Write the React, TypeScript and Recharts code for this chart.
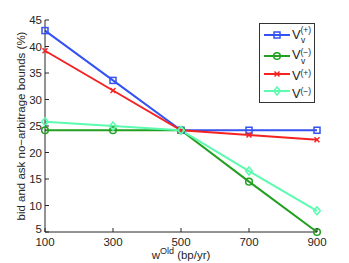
import { LineChart, Line, XAxis, YAxis, Label } from 'recharts'

const xVals = [100, 300, 500, 700, 900]
const vvPlus = [43.0, 33.6, 24.2, 24.2, 24.2]
const vvMinus = [24.2, 24.2, 24.2, 14.5, 5.0]
const vPlus = [39.2, 31.7, 24.2, 23.3, 22.4]
const vMinus = [25.8, 25.0, 24.2, 16.5, 9.0]
const xTicks = [100, 300, 500, 700, 900]
const yTicks = [5, 10, 15, 20, 25, 30, 35, 40, 45]

const data = xVals.map((x, i) => ({
  x,
  vvPlus: vvPlus[i],
  vvMinus: vvMinus[i],
  vPlus: vPlus[i],
  vMinus: vMinus[i],
}))

const FONT = '"Liberation Sans", Arial, sans-serif'
const INK = '#262626'

type Marker = 'square' | 'circle' | 'x' | 'diamond'

const SERIES: { key: string; color: string; marker: Marker; sign: string; sub: boolean }[] = [
  { key: 'vvPlus', color: '#3552f2', marker: 'square', sign: '(+)', sub: true },
  { key: 'vvMinus', color: '#22a021', marker: 'circle', sign: '(\u2212)', sub: true },
  { key: 'vPlus', color: '#f52222', marker: 'x', sign: '(+)', sub: false },
  { key: 'vMinus', color: '#5cfbb0', marker: 'diamond', sign: '(\u2212)', sub: false },
]

function MarkerShape({ cx, cy, color, marker }: { cx: number; cy: number; color: string; marker: Marker }) {
  if (marker === 'square')
    return <rect x={cx - 3} y={cy - 3} width={6} height={6} fill="none" stroke={color} strokeWidth={1.5} />
  if (marker === 'circle')
    return <circle cx={cx} cy={cy} r={3.3} fill="none" stroke={color} strokeWidth={1.5} />
  if (marker === 'x')
    return (
      <g stroke={color} strokeWidth={1.5}>
        <line x1={cx - 2.5} y1={cy - 2.5} x2={cx + 2.5} y2={cy + 2.5} />
        <line x1={cx - 2.5} y1={cy + 2.5} x2={cx + 2.5} y2={cy - 2.5} />
      </g>
    )
  return (
    <polygon
      points={`${cx},${cy - 4} ${cx + 3.3},${cy} ${cx},${cy + 4} ${cx - 3.3},${cy}`}
      fill="none"
      stroke={color}
      strokeWidth={1.5}
    />
  )
}

function LeftTick({ x, y, payload }: any) {
  // the lowest label sits a little higher, as in the original figure
  const dy = payload.value === yTicks[0] ? 1 : 4
  return (
    <g>
      <line x1={x + 3} x2={x + 7} y1={y} y2={y} stroke={INK} />
      <text x={x} y={y} dy={dy} textAnchor="end" fontSize={11.5} fontFamily={FONT} fill={INK}>
        {payload.value}
      </text>
    </g>
  )
}

function BottomTick({ x, y, payload }: any) {
  return (
    <g>
      <line x1={x} x2={x} y1={y - 4} y2={y} stroke={INK} />
      <text x={x} y={y + 14} textAnchor="middle" fontSize={11.5} fontFamily={FONT} fill={INK}>
        {payload.value}
      </text>
    </g>
  )
}

function TopTick({ x, y }: any) {
  return <line x1={x} x2={x} y1={y} y2={y + 4} stroke={INK} />
}

function RightTick({ x, y }: any) {
  return <line x1={x - 4} x2={x} y1={y} y2={y} stroke={INK} />
}

function XTitle({ viewBox }: any) {
  const cx = viewBox.x + viewBox.width / 2
  return (
    <text x={cx} y={259} textAnchor="middle" fontSize={11.5} fontFamily={FONT} fill={INK}>
      w<tspan dy={-5} fontSize={9}>Old</tspan>
      <tspan dy={5}> (bp/yr)</tspan>
    </text>
  )
}

function YTitle({ viewBox }: any) {
  const cy = viewBox.y + viewBox.height / 2
  return (
    <text
      x={25}
      y={cy}
      transform={`rotate(-90, 25, ${cy})`}
      textAnchor="middle"
      fontSize={11.5}
      fontFamily={FONT}
      fill={INK}
    >
      bid and ask no{'\u2212'}arbitrage bounds (%)
    </text>
  )
}

function LegendBox() {
  const lineY = [12, 33, 51, 68]
  const baseY = [16, 36, 57, 75]
  const supY = [10, 32, 53, 71]
  const subY = [20, 41, 0, 0]
  return (
    <svg
      width={56}
      height={80}
      style={{ position: 'absolute', left: 259, top: 23, overflow: 'visible' }}
    >
      <rect x={0.5} y={0.5} width={55} height={79} fill="#fff" stroke="#333" />
      {SERIES.map((s, i) => (
        <g key={s.key}>
          <line x1={5} x2={31} y1={lineY[i]} y2={lineY[i]} stroke={s.color} strokeWidth={2} />
          <MarkerShape cx={18} cy={lineY[i]} color={s.color} marker={s.marker} />
          <text x={33} y={baseY[i]} fontSize={13} fontFamily={FONT} fill={INK}>
            V
          </text>
          <text x={41.5} y={supY[i]} fontSize={8.5} fontFamily={FONT} fill={INK}>
            {s.sign}
          </text>
          {s.sub && (
            <text x={42} y={subY[i]} fontSize={8.5} fontFamily={FONT} fill={INK}>
              v
            </text>
          )}
        </g>
      ))}
    </svg>
  )
}

export default function App() {
  return (
    <div style={{ position: 'absolute', left: 0, top: 0, width: 349, height: 263, background: '#fff' }}>
      <LineChart width={349} height={263} data={data} margin={{ top: 20, right: 32, bottom: 0, left: 0 }}>
        <XAxis
          dataKey="x"
          type="number"
          domain={[100, 900]}
          ticks={xTicks}
          interval={0}
          height={31}
          tickSize={0}
          tickMargin={0}
          tick={<BottomTick />}
          axisLine={{ stroke: INK }}
        >
          <Label content={<XTitle />} />
        </XAxis>
        <XAxis
          xAxisId="top"
          orientation="top"
          dataKey="x"
          type="number"
          domain={[100, 900]}
          ticks={xTicks}
          interval={0}
          height={0}
          tickSize={0}
          tickMargin={0}
          tick={<TopTick />}
          axisLine={{ stroke: INK }}
        />
        <YAxis
          type="number"
          domain={[5, 45]}
          ticks={yTicks}
          interval={0}
          width={45}
          tickSize={0}
          tickMargin={3}
          tick={<LeftTick />}
          axisLine={{ stroke: INK }}
        >
          <Label content={<YTitle />} />
        </YAxis>
        <YAxis
          yAxisId="right"
          orientation="right"
          type="number"
          domain={[5, 45]}
          ticks={yTicks}
          interval={0}
          width={0}
          tickSize={0}
          tickMargin={0}
          tick={<RightTick />}
          axisLine={{ stroke: INK }}
        />
        {SERIES.map(s => (
          <Line
            key={s.key}
            dataKey={s.key}
            type="linear"
            stroke={s.color}
            strokeWidth={2}
            isAnimationActive={false}
            activeDot={false}
            dot={(p: any) => (
              <MarkerShape key={`${s.key}-${p.index}`} cx={p.cx} cy={p.cy} color={s.color} marker={s.marker} />
            )}
          />
        ))}
      </LineChart>
      <LegendBox />
    </div>
  )
}
